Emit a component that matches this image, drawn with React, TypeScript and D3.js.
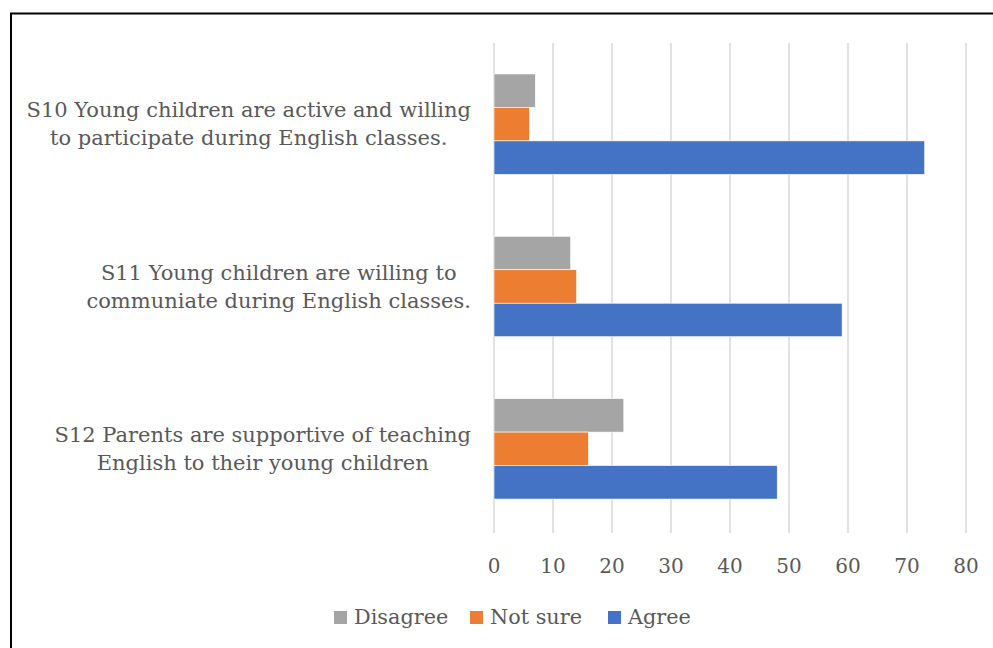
import React from "react";
import * as d3 from "d3";

const categories = ["S10", "S11", "S12"];
const categoryLines: string[][] = [
  ["S10 Young children are active and willing", "to participate during English classes."],
  ["S11 Young children are willing to", "communiate during English classes."],
  ["S12 Parents are supportive of teaching", "English to their young children"],
];
const seriesNames = ["Disagree", "Not sure", "Agree"];
const seriesColors = ["#A5A5A5", "#ED7D31", "#4472C4"];
const disagreeValues = [7, 13, 22];
const notSureValues = [6, 14, 16];
const agreeValues = [73, 59, 48];
const tickValues = [0, 10, 20, 30, 40, 50, 60, 70, 80];

const FONT = "'DejaVu Serif', serif";
const FS_CAT = 21;
const FS_TICK = 20;
const FS_LEG = 20.8;

function measure(text: string, size: number): number {
  const c = document.createElement("canvas");
  const ctx = c.getContext("2d");
  if (!ctx) return text.length * size * 0.5;
  ctx.font = `${size}px ${FONT}`;
  return ctx.measureText(text).width;
}

export default function App() {
  const W = 993;
  const H = 648;
  const x0 = 494;
  const x1 = 966;
  const top = 43;
  const bottom = 530;

  const x = d3.scaleLinear().domain([0, 80]).range([x0, x1]);
  const y = d3.scaleBand<string>().domain(categories).range([top, bottom]);
  const band = y.bandwidth();
  const barH = band / (3 + 1.85);
  const g = (band - 3 * barH) / 2;
  const inner = d3.scaleBand<string>().domain(seriesNames).range([g, band - g]);

  const values = [disagreeValues, notSureValues, agreeValues];
  const labelRight = 471;
  const legendX = [334, 470, 608];

  return (
    <svg
      width={W}
      height={H}
      style={{ position: "absolute", left: 0, top: 0, background: "#fff" }}
      fontFamily={FONT}
    >
      <rect x={11} y={13.5} width={1100} height={800} fill="#fff" stroke="#000" strokeWidth={2} />
      {tickValues.map((t) => (
        <line key={t} x1={x(t)} x2={x(t)} y1={top} y2={bottom + 3} stroke="#D9D9D9" strokeWidth={1.5} />
      ))}
      {categories.map((c, ci) =>
        seriesNames.map((s, si) => (
          <rect
            key={c + s}
            x={x(0)}
            y={(y(c) as number) + (inner(s) as number)}
            width={x(values[si][ci]) - x(0)}
            height={inner.bandwidth()}
            fill={seriesColors[si]}
            stroke="#fff"
            strokeWidth={0.6}
          />
        ))
      )}
      {tickValues.map((t) => (
        <text key={t} x={x(t)} y={573} textAnchor="middle" fontSize={FS_TICK} fill="#595959">
          {t}
        </text>
      ))}
      {categories.map((c, ci) => {
        const lines = categoryLines[ci];
        const maxW = Math.max(...lines.map((l) => measure(l, FS_CAT)));
        const cx = labelRight - maxW / 2;
        const cy = (y(c) as number) + band / 2;
        const lh = 28;
        return (
          <text key={c} textAnchor="middle" fontSize={FS_CAT} fill="#595959">
            {lines.map((l, li) => (
              <tspan key={li} x={cx} y={cy - 7 + li * lh}>
                {l}
              </tspan>
            ))}
          </text>
        );
      })}
      {seriesNames.map((s, si) => (
        <g key={s}>
          <rect x={legendX[si]} y={611} width={13} height={13} fill={seriesColors[si]} />
          <text x={legendX[si] + 20} y={624} fontSize={FS_LEG} fill="#595959">
            {s}
          </text>
        </g>
      ))}
    </svg>
  );
}
